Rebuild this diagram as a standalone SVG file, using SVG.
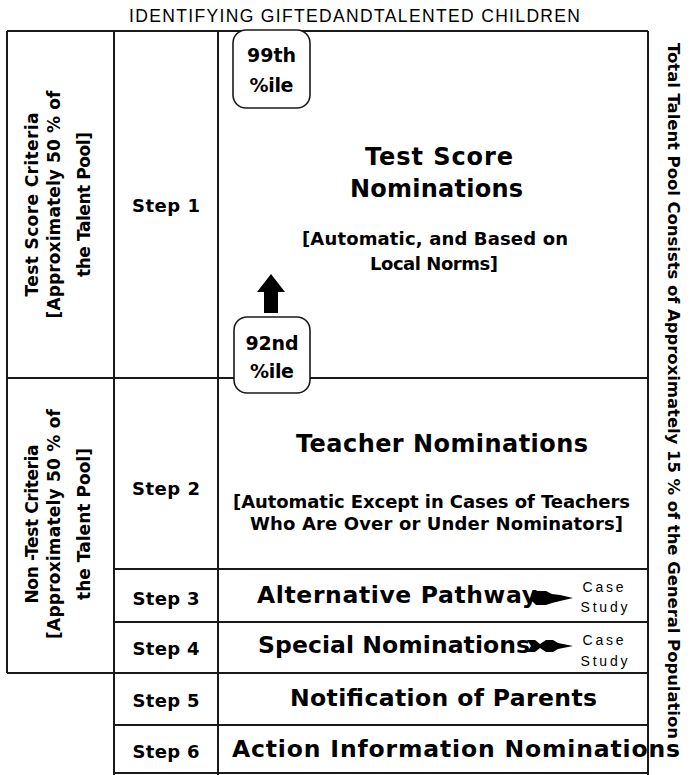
<svg xmlns="http://www.w3.org/2000/svg" width="696" height="775" viewBox="0 0 696 775">
<style>
text{font-family:"DejaVu Sans","Liberation Sans",Arial,sans-serif;fill:#000;font-weight:bold}
.ln{stroke:#1a1a1a;stroke-width:2;fill:none}
.pbox{fill:#fff;stroke:#1a1a1a;stroke-width:1.6}
.step{font-size:18px;text-anchor:middle}
.side{font-size:17px;text-anchor:middle}
.big{font-size:24px}
.mid{font-size:23.5px}
.sm{font-size:18px}
.pct{font-size:19px;text-anchor:middle}
.cs{font-family:"Liberation Sans",Arial,sans-serif;font-weight:normal;font-size:14px;text-anchor:middle}
.title{font-family:"Liberation Sans",Arial,sans-serif;font-weight:normal;font-size:17.5px}
.arr{fill:#000}
</style>
<rect width="696" height="775" fill="#fff"/>
<text id="title" class="title" x="129" y="22" textLength="451" lengthAdjust="spacing">IDENTIFYING GIFTEDANDTALENTED CHILDREN</text>

<g id="grid">
<path class="ln" d="M7,31H648M7,378H648M114,569H648M114,622H648M7,673H648M114,725H648M114,773H648"/>
<path class="ln" d="M7,31V673M114,31V775M218,31V775M648,31V775"/>
</g>

<g id="test-score-criteria">
<text class="side" transform="translate(38,204.5) rotate(-90)" textLength="184" lengthAdjust="spacing">Test Score Criteria</text>
<text class="side" transform="translate(60,204.5) rotate(-90)" textLength="228" lengthAdjust="spacing">[Approximately 50 % of</text>
<text class="side" transform="translate(90,204.5) rotate(-90)" textLength="145" lengthAdjust="spacing">the Talent Pool]</text>
</g>
<g id="non-test-criteria">
<text class="side" transform="translate(38,524) rotate(-90)" textLength="159" lengthAdjust="spacing">Non -Test Criteria</text>
<text class="side" transform="translate(60,524) rotate(-90)" textLength="230" lengthAdjust="spacing">[Approximately 50 % of</text>
<text class="side" transform="translate(90,524) rotate(-90)" textLength="152" lengthAdjust="spacing">the Talent Pool]</text>
</g>

<g id="step1"><text class="step" x="166" y="212" textLength="68" lengthAdjust="spacing">Step 1</text></g>
<g id="step2"><text class="step" x="166" y="495" textLength="68" lengthAdjust="spacing">Step 2</text></g>
<g id="step3"><text class="step" x="166" y="605" textLength="67" lengthAdjust="spacing">Step 3</text></g>
<g id="step4"><text class="step" x="166" y="655" textLength="67" lengthAdjust="spacing">Step 4</text></g>
<g id="step5"><text class="step" x="166" y="707" textLength="67" lengthAdjust="spacing">Step 5</text></g>
<g id="step6"><text class="step" x="166" y="758" textLength="67" lengthAdjust="spacing">Step 6</text></g>

<g id="test-score-nominations">
<text class="big" x="365" y="165" textLength="148" lengthAdjust="spacing">Test Score</text>
<text class="big" x="350" y="197" textLength="173" lengthAdjust="spacing">Nominations</text>
<text class="sm" x="302" y="245" font-size="19" textLength="266" lengthAdjust="spacing">[Automatic, and Based on</text>
<text class="sm" x="370" y="270" font-size="19" textLength="128" lengthAdjust="spacing">Local Norms]</text>
</g>

<g id="pct99">
<rect class="pbox" x="233" y="30" width="77" height="78" rx="13"/>
<text class="pct" x="271.5" y="62" textLength="49" lengthAdjust="spacing">99th</text>
<text class="pct" x="271.5" y="92" textLength="44" lengthAdjust="spacing">%ile</text>
</g>
<g id="pct92">
<rect class="pbox" x="234" y="317" width="76" height="76" rx="13"/>
<text class="pct" x="272" y="350" textLength="53" lengthAdjust="spacing">92nd</text>
<text class="pct" x="272" y="378" textLength="44" lengthAdjust="spacing">%ile</text>
</g>

<g id="teacher-nominations">
<text class="big" x="296" y="452" textLength="292" lengthAdjust="spacing">Teacher Nominations</text>
<text class="sm" x="233" y="508" textLength="397" lengthAdjust="spacing">[Automatic Except in Cases of Teachers</text>
<text class="sm" x="250" y="530" textLength="373" lengthAdjust="spacing">Who Are Over or Under Nominators]</text>
</g>

<g id="alternative-pathway">
<text class="mid" x="257" y="603" textLength="280" lengthAdjust="spacing">Alternative Pathway</text>
</g>
<g id="case-study-1">
<text class="cs" x="603" y="592" textLength="41" lengthAdjust="spacing">Case</text>
<text class="cs" x="604" y="612" textLength="47" lengthAdjust="spacing">Study</text>
</g>
<g id="special-nominations">
<text class="mid" x="258" y="653" textLength="272" lengthAdjust="spacing">Special Nominations</text>
</g>
<g id="case-study-2">
<text class="cs" x="603" y="645" textLength="41" lengthAdjust="spacing">Case</text>
<text class="cs" x="604" y="666" textLength="47" lengthAdjust="spacing">Study</text>
</g>
<g id="notification">
<text class="mid" x="290" y="706" textLength="307" lengthAdjust="spacing">Notification of Parents</text>
</g>
<g id="action-information">
<text class="mid" x="232" y="757" font-size="24.5" textLength="448" lengthAdjust="spacing">Action Information Nominations</text>
</g>

<g id="total-talent-pool">
<text font-size="16.5" transform="translate(668,43) rotate(90)" textLength="696" lengthAdjust="spacing">Total Talent Pool Consists of Approximately 15 % of the General Population</text>
</g>

<g id="connectors">
<polygon class="arr" points="271,274 285,292 278,292 278,313 264,313 264,292 257,292"/>
<polygon class="arr" points="532,595 536,591 546,591 552,594 560,595 573,598 560,601 552,603 546,605 536,605 532,601"/>
<polygon class="arr" points="527,640 535,640 540,644 546,640 553,640 558,643 573,646 558,649 553,652 546,652 540,648 535,652 527,652 531,646"/>
</g>
</svg>
